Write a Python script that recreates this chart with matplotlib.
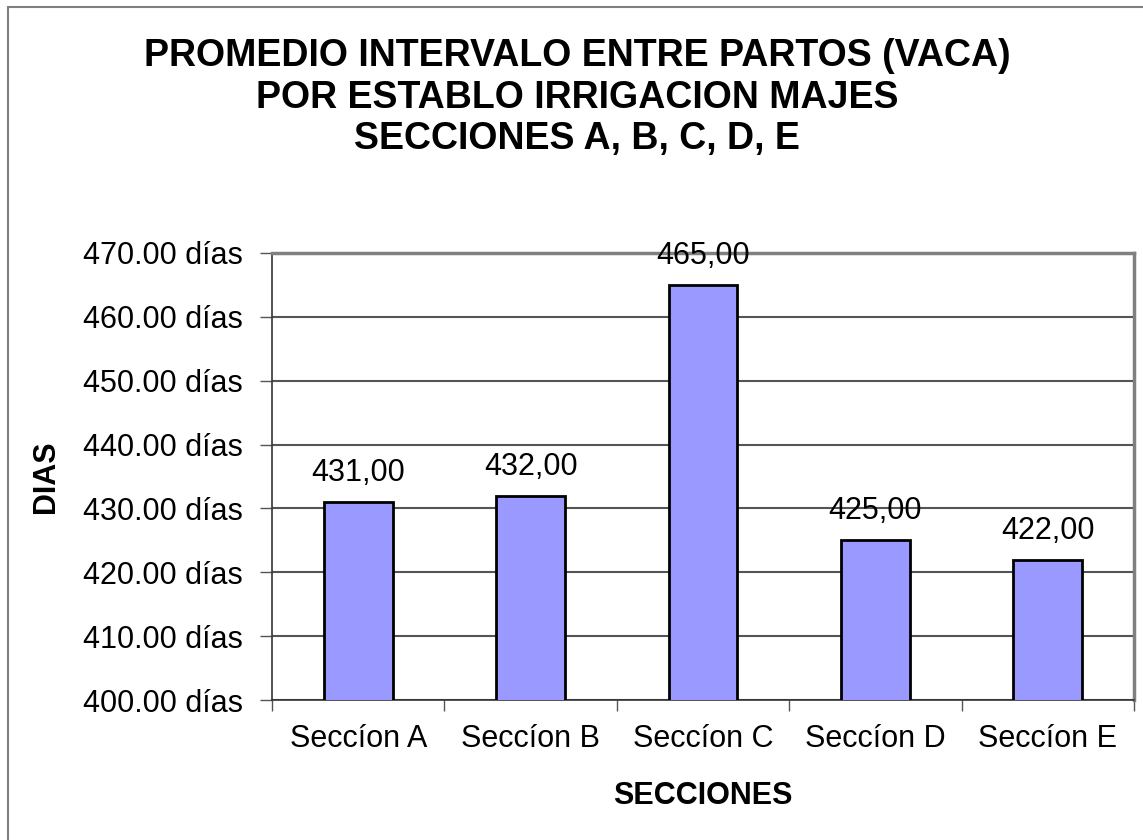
import matplotlib
matplotlib.use("Agg")
import matplotlib.pyplot as plt
from matplotlib.patches import Rectangle
import numpy as np

plt.rcParams['font.family'] = ['Liberation Sans', 'DejaVu Sans']

categories = ["Seccíon A", "Seccíon B", "Seccíon C", "Seccíon D", "Seccíon E"]
values = [431, 432, 465, 425, 422]
value_labels = ["431,00", "432,00", "465,00", "425,00", "422,00"]
yticks = [400, 410, 420, 430, 440, 450, 460, 470]
ytick_labels = ["400.00 días", "410.00 días", "420.00 días", "430.00 días",
                "440.00 días", "450.00 días", "460.00 días", "470.00 días"]
title_lines = ["PROMEDIO INTERVALO ENTRE PARTOS (VACA)",
               "POR ESTABLO IRRIGACION MAJES",
               "SECCIONES A, B, C, D, E"]

W, H = 1143, 840
fig = plt.figure(figsize=(W / 100, H / 100), dpi=100)
fig.patch.set_facecolor("white")

# outer chart border (cropped at right/bottom)
fig.add_artist(Rectangle((8 / W, -0.1), 1.2, 1 - 7 / H + 0.1, transform=fig.transFigure,
                         fill=False, edgecolor="#808080", linewidth=1.5))

left, right, top, bottom = 272, 1134, 253, 700
ax = fig.add_axes([left / W, 1 - bottom / H, (right - left) / W, (bottom - top) / H])

x = np.arange(len(categories))
ax.bar(x, values, width=0.4, bottom=0, color="#9999FF", edgecolor="black",
       linewidth=2, zorder=3)
ax.set_xlim(-0.5, len(categories) - 0.5)
ax.set_ylim(400, 470)

fs = 22
ax.set_yticks(yticks)
ax.set_yticklabels(ytick_labels, fontsize=fs)
ax.yaxis.grid(True, color="#555555", linewidth=1.5, zorder=0)

ax.set_xticks(np.arange(len(categories) + 1) - 0.5)
ax.set_xticklabels([])
ax.set_xticks(x, minor=True)
ax.set_xticklabels(categories, minor=True, fontsize=fs)
ax.tick_params(axis='x', which='minor', length=0, pad=17)
ax.tick_params(axis='x', which='major', length=8, width=1, color="#555555")
ax.tick_params(axis='y', length=9, width=1, color="#555555", pad=12)

for xi, v, lab in zip(x, values, value_labels):
    ax.annotate(lab, (xi, v), xytext=(0, 10), textcoords="offset points",
                ha="center", va="bottom", fontsize=fs, zorder=4)

for side in ("left", "bottom"):
    ax.spines[side].set_color("#333333")
    ax.spines[side].set_linewidth(1.2)
for side in ("top", "right"):
    ax.spines[side].set_color("#808080")
    ax.spines[side].set_linewidth(2.5)

ax.set_ylabel("DIAS", fontsize=fs, fontweight="bold", labelpad=16)
ax.set_xlabel("SECCIONES", fontsize=fs, fontweight="bold", labelpad=20)

for i, line in enumerate(title_lines):
    fig.text(577 / W, 1 - (56 + 41.5 * i) / H, line, ha="center", va="center",
             fontsize=27, fontweight="bold")

fig.savefig("out.png", dpi=100, facecolor="white")
